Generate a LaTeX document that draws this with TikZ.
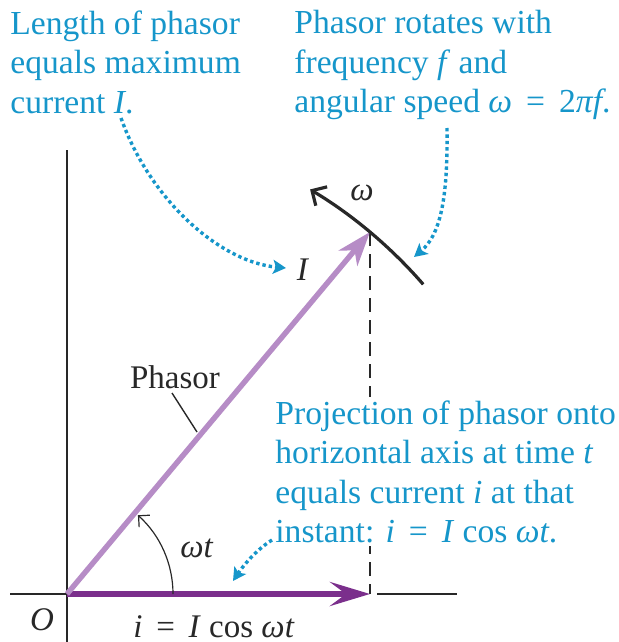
\documentclass[tikz,border=0pt]{standalone}
\usepackage{fontspec}
\setmainfont{Liberation Serif}
\usetikzlibrary{arrows.meta}
\definecolor{notecyan}{RGB}{22,150,202}
\definecolor{phasorlilac}{RGB}{182,140,198}
\definecolor{currentpurple}{RGB}{123,47,140}
\definecolor{axisink}{RGB}{40,40,40}
\tikzset{
  note/.style={
    text=notecyan,
    align=left,
    anchor=north west,
    inner sep=0pt,
    font=\fontsize{16.8}{19.75}\selectfont
  },
  tag/.style={
    text=axisink,
    inner sep=0pt,
    font=\fontsize{16.5}{19}\selectfont
  },
  axisline/.style={draw=axisink, line width=0.7pt},
  projline/.style={draw=axisink, line width=0.7pt, dash pattern=on 7pt off 4pt},
  phasor/.style={draw=phasorlilac, line width=2.7pt, -{Stealth[length=17pt,width=12pt,inset=5pt]}},
  current/.style={draw=currentpurple, line width=3.2pt, -{Stealth[length=20pt,width=12pt,inset=8pt]}},
  spin/.style={draw=axisink, line width=1.6pt, -{Straight Barb[length=5.5pt,width=11pt]}},
  sweep/.style={draw=axisink, line width=0.6pt, -{Straight Barb[length=4pt,width=8pt]}},
  pointer/.style={draw=notecyan, line width=1.7pt, dash pattern=on 1.7pt off 1.5pt, -{Stealth[length=6.5pt,width=7pt,inset=1.5pt]}}
}

\begin{document}
\begin{tikzpicture}[x=0.5pt,y=-0.5pt]
    \useasboundingbox (0,0) rectangle (618,642);
    \coordinate (O) at (67,594);
    \coordinate (tip) at (370,232);
    \coordinate (foot) at (370,594);
    \coordinate (ybot) at (67,642);
    \coordinate (ytop) at (67,150);
    \coordinate (xleft) at (10,594);
    \coordinate (xgap) at (377,594);
    \coordinate (xright) at (457,594);

    % axes and projection
    \draw[axisline] (ybot) -- (ytop);
    \draw[axisline] (xleft) -- (O);
    \draw[axisline] (xgap) -- (xright);
    \draw[projline] (tip) -- (foot);

    % phasor and its projection
    \draw[current] (O) -- (foot);
    \draw[phasor] (O) -- (tip);
    \draw[spin] (O) ++(-41:472) arc[start angle=-41, end angle=-59, radius=472];
    \draw[sweep] (O) ++(0:106) arc[start angle=0, end angle=-48, radius=106];

    \node[tag] (olabel) at (42,620) {\textit{O}};
    \node[tag] (ilabel) at (303,270) {\textit{I}};
    \node[tag] (wlabel) at (362,193) {\textit{ω}};
    \node[tag] (wtlabel) at (197,548) {\textit{ωt}};
    \node[tag] (proj) at (214,627) {\textit{i}\, =\, \textit{I} cos \textit{ωt}};
    \node[tag] (phname) at (175,377) {Phasor};
    \coordinate (phfoot) at (197,432);
    \draw[axisline] (phname.south) ++(-3,4) -- (phfoot);

    % notes
    \node[note] (lennote) at (10,10) {Length of phasor\\equals maximum\\current \textit{I}.};
    \node[note] (rotnote) at (294,10) {Phasor rotates with\\frequency \textit{f} and\\angular speed \textit{ω}\, =\, 2\textit{πf}.};
    \node[note, fill=white, inner sep=1.5pt] (projnote) at (272,397) {Projection of phasor onto\\horizontal axis at time \textit{t}\\equals current \textit{i} at that\\instant: \textit{i}\, =\, \textit{I} cos \textit{ωt}.};

    \coordinate (lenstart) at (121,118);
    \coordinate (lenend) at (286,268);
    \coordinate (rotstart) at (447,128);
    \coordinate (rotend) at (414,257);
    \coordinate (projstart) at (272,540);
    \coordinate (projend) at (233,581);
    \draw[pointer] (lenstart) .. controls (150,200) and (220,262) .. (lenend);
    \draw[pointer] (rotstart) .. controls (448,200) and (440,235) .. (rotend);
    \draw[pointer] (projstart) .. controls (256,550) and (243,566) .. (projend);
\end{tikzpicture}
\end{document}
